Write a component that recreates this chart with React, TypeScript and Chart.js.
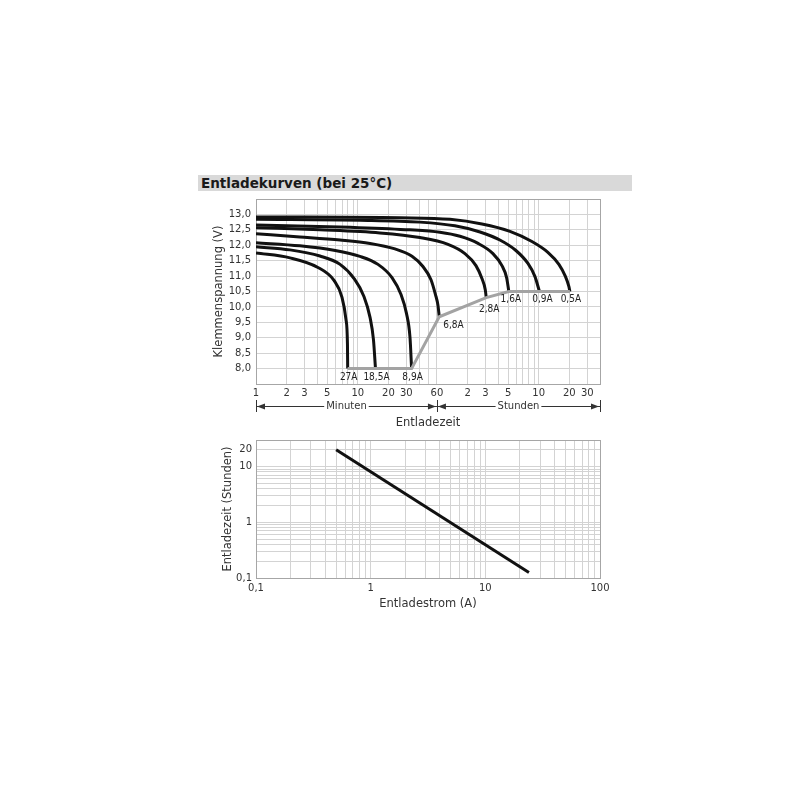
import React, { useEffect, useRef } from "react";
import { Chart, registerables } from "chart.js";

Chart.register(...registerables);

const FONT = '"DejaVu Sans", Verdana, sans-serif';
const NARROW = '"Liberation Sans Narrow", "DejaVu Sans Condensed", "Liberation Sans", sans-serif';

// ---------- Top chart: discharge curves (x = minutes, y = volts) ----------
const currentLabels = ["0,5A", "0,9A", "1,6A", "2,8A", "6,8A", "8,9A", "18,5A", "27A"];
const curve05A: [number, number][] = [[1, 12.92], [26, 12.89], [80.5, 12.84], [166, 12.69], [313, 12.45], [514, 12.12], [738, 11.77], [947, 11.38], [1097, 10.99], [1188, 10.66], [1214, 10.5]];
const curve09A: [number, number][] = [[1, 12.84], [10.5, 12.81], [40.8, 12.75], [90, 12.63], [159, 12.43], [249, 12.17], [358, 11.83], [470, 11.41], [550, 10.99], [610, 10.5]];
const curve16A: [number, number][] = [[1, 12.66], [8.4, 12.58], [32.6, 12.5], [64, 12.42], [101, 12.29], [152, 12.06], [213, 11.73], [261, 11.34], [290, 10.95], [305, 10.5]];
const curve28A: [number, number][] = [[1, 12.57], [4.25, 12.5], [16.5, 12.4], [40.8, 12.25], [77, 12.03], [113, 11.73], [145, 11.34], [166, 10.92], [179, 10.56], [183, 10.3]];
const curve68A: [number, number][] = [[1, 12.37], [2.7, 12.27], [6.7, 12.17], [13.2, 12.06], [23.2, 11.88], [34.1, 11.64], [43.7, 11.31], [52.3, 10.89], [58, 10.4], [61.4, 10.05], [63.2, 9.68]];
const curve89A: [number, number][] = [[1, 12.08], [2.7, 11.98], [6, 11.83], [10.5, 11.64], [15.8, 11.38], [21.7, 10.95], [26.6, 10.4], [30.1, 9.79], [32.6, 9.01], [33.8, 8.0]];
const curve185A: [number, number][] = [[1, 11.95], [2.16, 11.85], [4.25, 11.65], [6.7, 11.38], [9.2, 10.92], [11.5, 10.34], [13.2, 9.66], [14.26, 8.94], [14.93, 8.0]];
const curve27A: [number, number][] = [[1, 11.75], [2.16, 11.59], [4.06, 11.28], [5.84, 10.86], [7.0, 10.31], [7.66, 9.59], [7.92, 8.78], [7.96, 8.0]];
const curves = [curve05A, curve09A, curve16A, curve28A, curve68A, curve89A, curve185A, curve27A];
const cutoffLine: [number, number][] = [[7.96, 8.0], [33.8, 8.0], [63.2, 9.68], [183, 10.3], [305, 10.5], [1214, 10.5]];

const timeGridMinutes = [1, 2, 3, 4, 5, 6, 7, 8, 9, 10, 20, 30, 40, 50, 60, 120, 180, 240, 300, 360, 420, 480, 540, 600, 1200, 1800, 2400];
const timeTickValues = [1, 2, 3, 5, 10, 20, 30, 60, 120, 180, 300, 600, 1200, 1800];
const timeTickLabels = ["1", "2", "3", "5", "10", "20", "30", "60", "2", "3", "5", "10", "20", "30"];
const voltMin = 7.5;
const voltMax = 13.5;
const voltLabelMin = 8.0;
const voltLabelMax = 13.0;
const timeSpanMinuten = [1, 60];
const timeSpanStunden = [60, 2400];

// ---------- Bottom chart: discharge time vs. current ----------
const currentAmps = [0.5, 24];
const dischargeHours = [20, 0.125];
const ampGrid = [0.1, 0.2, 0.3, 0.4, 0.5, 0.6, 0.7, 0.8, 0.9, 1, 2, 3, 4, 5, 6, 7, 8, 9, 10, 20, 30, 40, 50, 60, 70, 80, 90, 100];
const ampTickValues = [0.1, 1, 10, 100];
const ampTickLabels = ["0,1", "1", "10", "100"];
const hourGrid = [0.1, 0.2, 0.3, 0.4, 0.5, 0.6, 0.7, 0.8, 0.9, 1, 2, 3, 4, 5, 6, 7, 8, 9, 10, 20, 30];
const hourTickValues = [0.1, 1, 10, 20];
const hourTickLabels = ["0,1", "1", "10", "20"];

// label placement styling (offsets in px from curve end point)
const labelStyle = [
  { dx: 1, dy: 8, align: "center" },
  { dx: 3, dy: 8, align: "center" },
  { dx: 2, dy: 8, align: "center" },
  { dx: 3, dy: 12, align: "center" },
  { dx: 4, dy: 9, align: "left" },
  { dx: 1, dy: 9, align: "center" },
  { dx: 1, dy: 9, align: "center" },
  { dx: 1, dy: 9, align: "center" },
];

const GRID = "#d3d3d3";
const FRAME = "#a6a6a6";
const TEXT = "#333";

function App() {
  const topRef = useRef<HTMLCanvasElement | null>(null);
  const botRef = useRef<HTMLCanvasElement | null>(null);

  useEffect(() => {
    const annotPlugin = {
      id: "annot",
      afterDatasetsDraw(chart: any) {
        const { ctx, scales } = chart;
        const xs = scales.x;
        const ys = scales.y;
        ctx.save();
        ctx.fillStyle = "#222";
        ctx.font = `10px ${NARROW}`;
        ctx.textBaseline = "middle";
        curves.forEach((c, i) => {
          const last = c[c.length - 1];
          const px = xs.getPixelForValue(last[0]);
          const py = ys.getPixelForValue(last[1]);
          const st = labelStyle[i];
          ctx.textAlign = st.align;
          ctx.fillText(currentLabels[i], px + st.dx, py + st.dy);
        });
        ctx.restore();
      },
      afterDraw(chart: any) {
        const { ctx, scales, chartArea } = chart;
        const xs = scales.x;
        const y = chartArea.bottom + 22;
        ctx.save();
        ctx.strokeStyle = "#333";
        ctx.fillStyle = "#333";
        ctx.lineWidth = 1;
        ctx.font = `10px ${FONT}`;
        ctx.textAlign = "center";
        ctx.textBaseline = "middle";
        const arrow = (tip: number, dir: number) => {
          ctx.beginPath();
          ctx.moveTo(tip, y + 0.5);
          ctx.lineTo(tip - dir * 8, y - 2.5);
          ctx.lineTo(tip - dir * 8, y + 3.5);
          ctx.closePath();
          ctx.fill();
        };
        const segment = (a: number, b: number, text: string) => {
          const xa = xs.getPixelForValue(a);
          const xb = xs.getPixelForValue(b);
          const mid = (xa + xb) / 2;
          const w = ctx.measureText(text).width / 2 + 2;
          ctx.beginPath();
          ctx.moveTo(xa, y + 0.5);
          ctx.lineTo(mid - w, y + 0.5);
          ctx.moveTo(mid + w, y + 0.5);
          ctx.lineTo(xb, y + 0.5);
          ctx.stroke();
          arrow(xa + 1, -1);
          arrow(xb - 1, 1);
          ctx.fillText(text, mid, y);
          [xa, xb].forEach((xx) => {
            ctx.beginPath();
            ctx.moveTo(Math.round(xx) + 0.5, y - 6);
            ctx.lineTo(Math.round(xx) + 0.5, y + 6);
            ctx.stroke();
          });
        };
        segment(timeSpanMinuten[0], timeSpanMinuten[1], "Minuten");
        segment(timeSpanStunden[0], timeSpanStunden[1], "Stunden");
        ctx.restore();
      },
    };

    const topChart = new Chart(topRef.current as HTMLCanvasElement, {
      type: "line",
      data: {
        datasets: [
          {
            data: cutoffLine.map(([x, y]) => ({ x, y })),
            borderColor: "#a3a3a3",
            borderWidth: 3,
            tension: 0,
            pointRadius: 0,
          },
          ...curves.map((c) => ({
            data: c.map(([x, y]) => ({ x, y })),
            borderColor: "#111",
            borderWidth: 3,
            cubicInterpolationMode: "monotone" as const,
            pointRadius: 0,
          })),
        ],
      },
      options: {
        responsive: false,
        animation: false,
        devicePixelRatio: 1,
        layout: { padding: { left: 212, right: 200, top: 199, bottom: 0 } },
        plugins: { legend: { display: false }, tooltip: { enabled: false } },
        scales: {
          x: {
            type: "logarithmic",
            min: 1,
            max: 2400,
            afterBuildTicks: (s: any) => {
              s.ticks = timeGridMinutes.map((v) => ({ value: v }));
            },
            afterFit: (s: any) => {
              s.height = 56;
            },
            ticks: {
              autoSkip: false,
              maxRotation: 0,
              padding: 3,
              color: TEXT,
              font: { family: FONT, size: 10 },
              callback: (v: any) => {
                const i = timeTickValues.indexOf(Number(v));
                return i >= 0 ? timeTickLabels[i] : "";
              },
            },
            grid: {
              drawTicks: false,
              color: (c: any) => (c.tick && c.tick.value === 2400 ? FRAME : GRID),
            },
            border: { color: FRAME },
            title: {
              display: true,
              text: "Entladezeit",
              color: TEXT,
              font: { family: FONT, size: 11.5 },
              padding: { top: 0, bottom: 10 },
            },
          },
          y: {
            type: "linear",
            min: voltMin,
            max: voltMax,
            afterFit: (s: any) => {
              s.width = 44;
            },
            ticks: {
              stepSize: 0.5,
              padding: 5,
              color: TEXT,
              font: { family: FONT, size: 10 },
              callback: (v: any) => {
                const n = Number(v);
                return n < voltLabelMin - 1e-6 || n > voltLabelMax + 1e-6 ? "" : n.toFixed(1).replace(".", ",");
              },
            },
            grid: {
              drawTicks: false,
              color: (c: any) => (c.tick && c.tick.value === voltMax ? FRAME : GRID),
            },
            border: { color: FRAME },
            title: {
              display: true,
              text: "Klemmenspannung (V)",
              color: TEXT,
              font: { family: FONT, size: 11.5 },
              padding: { top: 0, bottom: 0 },
            },
          },
        },
      },
      plugins: [annotPlugin],
    } as any);

    const botChart = new Chart(botRef.current as HTMLCanvasElement, {
      type: "line",
      data: {
        datasets: [
          {
            data: currentAmps.map((x, i) => ({ x, y: dischargeHours[i] })),
            borderColor: "#111",
            borderWidth: 3,
            pointRadius: 0,
            tension: 0,
          },
        ],
      },
      options: {
        responsive: false,
        animation: false,
        devicePixelRatio: 1,
        layout: { padding: { left: 221, right: 200, top: 10, bottom: 0 } },
        plugins: { legend: { display: false }, tooltip: { enabled: false } },
        scales: {
          x: {
            type: "logarithmic",
            min: 0.1,
            max: 100,
            afterBuildTicks: (s: any) => {
              s.ticks = ampGrid.map((v) => ({ value: v }));
            },
            afterFit: (s: any) => {
              s.height = 42;
            },
            ticks: {
              autoSkip: false,
              maxRotation: 0,
              padding: 4,
              color: TEXT,
              font: { family: FONT, size: 10 },
              callback: (v: any) => {
                const i = ampTickValues.indexOf(Number(v));
                return i >= 0 ? ampTickLabels[i] : "";
              },
            },
            grid: {
              drawTicks: false,
              color: (c: any) => (c.tick && c.tick.value === 100 ? FRAME : GRID),
            },
            border: { color: FRAME },
            title: {
              display: true,
              text: "Entladestrom (A)",
              color: TEXT,
              font: { family: FONT, size: 11.5 },
              padding: { top: 0, bottom: 9 },
            },
          },
          y: {
            type: "logarithmic",
            min: 0.1,
            max: 30,
            afterBuildTicks: (s: any) => {
              s.ticks = hourGrid.map((v) => ({ value: v }));
            },
            afterFit: (s: any) => {
              s.width = 35;
            },
            ticks: {
              autoSkip: false,
              padding: 4,
              color: TEXT,
              font: { family: FONT, size: 10 },
              callback: (v: any) => {
                const i = hourTickValues.indexOf(Number(v));
                return i >= 0 ? hourTickLabels[i] : "";
              },
            },
            grid: {
              drawTicks: false,
              color: (c: any) => (c.tick && c.tick.value === 30 ? FRAME : GRID),
            },
            border: { color: FRAME },
            title: {
              display: true,
              text: "Entladezeit (Stunden)",
              color: TEXT,
              font: { family: FONT, size: 11.5 },
              padding: { top: 0, bottom: 0 },
            },
          },
        },
      },
    } as any);

    return () => {
      topChart.destroy();
      botChart.destroy();
    };
  }, []);

  return (
    <div style={{ position: "absolute", left: 0, top: 0, width: 800, height: 800, background: "#fff", overflow: "hidden" }}>
      <div
        style={{
          position: "absolute",
          left: 198,
          top: 175,
          width: 434,
          height: 16,
          background: "#d9d9d9",
          fontFamily: FONT,
          fontWeight: "bold",
          fontSize: 13.5,
          lineHeight: "16px",
          color: "#1a1a1a",
          paddingLeft: 3,
          boxSizing: "border-box",
          whiteSpace: "nowrap",
        }}
      >
        Entladekurven (bei 25°C)
      </div>
      <canvas ref={topRef} width={800} height={440} style={{ position: "absolute", left: 0, top: 0, width: 800, height: 440 }} />
      <canvas ref={botRef} width={800} height={190} style={{ position: "absolute", left: 0, top: 430, width: 800, height: 190 }} />
    </div>
  );
}

export default App;
